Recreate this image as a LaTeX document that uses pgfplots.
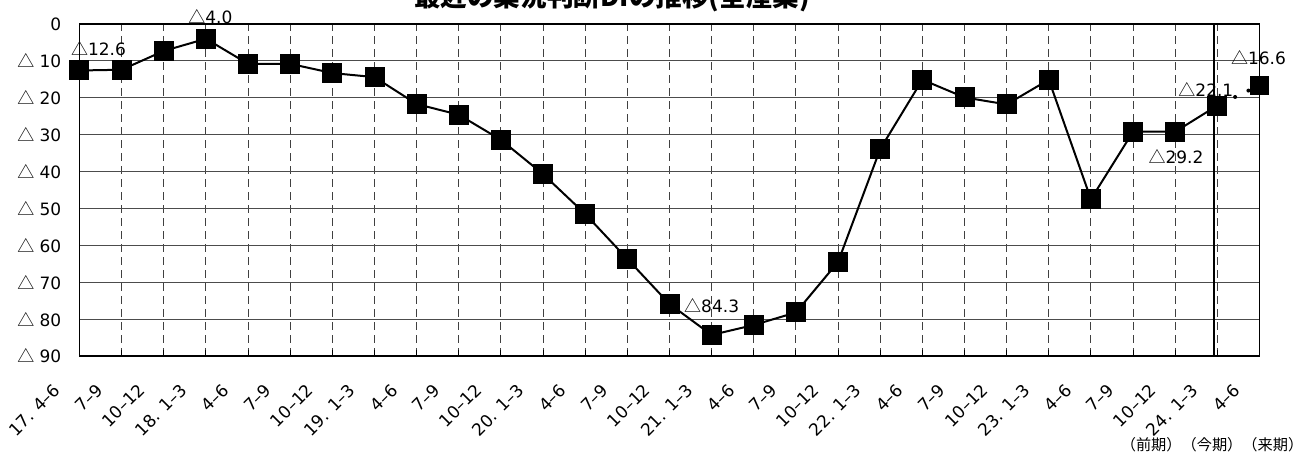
\documentclass[border=0pt]{standalone}
\usepackage{fontspec}
\setmainfont{Noto Sans CJK JP}
\newfontfamily\num{DejaVu Sans}
\newfontfamily\cjk{Noto Sans CJK JP}
\newcommand\tri{{\cjk △}}
\usepackage{pgfplots}
\pgfplotsset{compat=1.18}

% quarterly business-condition DI, all industries (negative = △)
\pgfplotstableread{
x   di
0   -12.6
1   -12.4
2   -7.3
3   -4.0
4   -10.8
5   -10.8
6   -13.3
7   -14.4
8   -21.7
9   -24.6
10  -31.4
11  -40.7
12  -51.5
13  -63.7
14  -75.9
15  -84.3
16  -81.6
17  -78.2
18  -64.5
19  -33.9
20  -15.1
21  -19.9
22  -21.8
23  -15.1
24  -47.5
25  -29.2
26  -29.2
27  -22.1
}\actual
\pgfplotstableread{
x   di
27  -22.1
28  -16.6
}\outlook

\begin{document}
\begin{tikzpicture}
\path[use as bounding box] (0,0) rectangle (650.5pt,226.5pt);
\begin{axis}[
  at={(39.75pt,48.5pt)}, anchor=south west,
  scale only axis, width=590pt, height=166pt,
  xmin=0, xmax=28, ymin=-90, ymax=0,
  clip=false,
  axis line style={line width=0.75pt, black},
  xtick={0,...,28},
  xticklabels={17. 4–6,7–9,10–12,18. 1–3,4–6,7–9,10–12,19. 1–3,4–6,7–9,10–12,20. 1–3,4–6,7–9,10–12,21. 1–3,4–6,7–9,10–12,22. 1–3,4–6,7–9,10–12,23. 1–3,4–6,7–9,10–12,24. 1–3,4–6},
  ytick={-90,-80,...,0},
  yticklabels={\tri\ 90,\tri\ 80,\tri\ 70,\tri\ 60,\tri\ 50,\tri\ 40,\tri\ 30,\tri\ 20,\tri\ 10,0},
  tick label style={font=\num\fontsize{8.5}{10}\selectfont},
  xtick pos=bottom, ytick pos=left,
  tick align=inside,
  major tick length=3pt,
  ytick style={draw=none},
  xtick style={line width=0.5pt, black},
  xmajorgrids, ymajorgrids,
  x grid style={dash pattern=on 4pt off 2.5pt, black!75, line width=0.5pt},
  y grid style={black!70, line width=0.6pt},
  yticklabel style={inner sep=0pt, anchor=east, xshift=-8.9pt},
  xticklabel style={inner sep=0pt, anchor=east, xshift=-11pt, yshift=-15.5pt, rotate=45},
]
% outlook segment (dotted)
\addplot[black, line width=2pt, line cap=round, dash pattern=on 0pt off 7.4pt, dash phase=4.95pt, mark=none]
  table[x=x, y=di] {\outlook};
% results up to the current quarter
\addplot[black, line width=1pt, mark=square*, mark size=4.5pt, mark options={solid}]
  table[x=x, y=di] {\actual};
\addplot[black, only marks, mark=square*, mark size=4.5pt]
  table[x=x, y=di] {\outlook};
% boundary of the current quarter
\draw[black, line width=1.25pt] (axis cs:26.92,0) -- (axis cs:26.92,-90);
% value labels
\begin{scope}[every node/.style={font=\num\fontsize{8.5}{10}\selectfont, inner sep=0pt}]
\node at (axis cs:0,-12.6)  [xshift=9.5pt, yshift=10.75pt] {\tri12.6};
\node at (axis cs:3,-4.0)   [xshift=2.25pt, yshift=11.15pt] {\tri4.0};
\node at (axis cs:15,-84.3) [yshift=14.75pt] {\tri84.3};
\node at (axis cs:26,-29.2) [xshift=0.4pt, yshift=-12.35pt] {\tri29.2};
\node at (axis cs:27,-22.1) [xshift=-5.75pt, yshift=8pt] {\tri22.1};
\node at (axis cs:28,-16.6) [xshift=-0.5pt, yshift=14pt] {\tri16.6};
\end{scope}
\end{axis}
\node[anchor=base, font=\cjk\fontsize{13.3}{14}\selectfont\bfseries] at (306pt,223pt) {最近の業況判断DIの推移(全産業)};
\node[font=\cjk\fontsize{7.6}{8}\selectfont] at (606pt,4.25pt) {（前期）（今期）（来期）};
\end{tikzpicture}
\end{document}
